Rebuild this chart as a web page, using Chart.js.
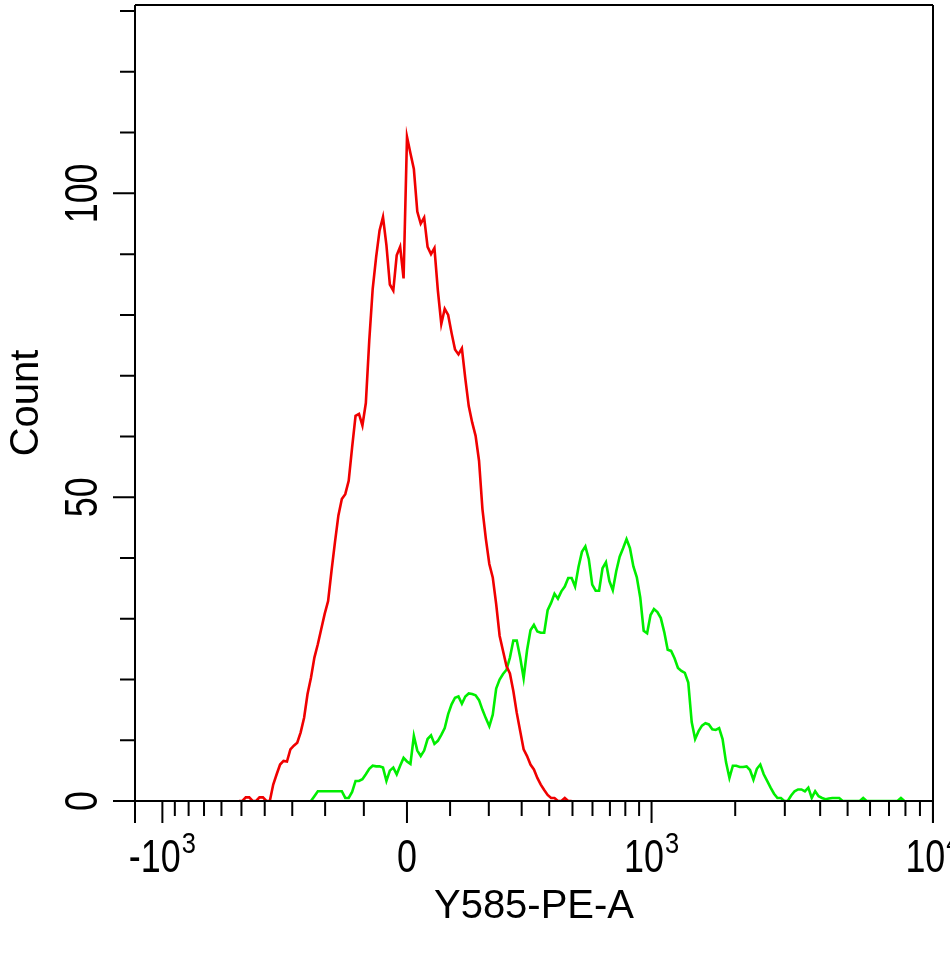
<!DOCTYPE html>
<html><head><meta charset="utf-8">
<script src="https://cdn.jsdelivr.net/npm/chart.js@4.4.1/dist/chart.umd.min.js"></script>
<style>html,body{margin:0;padding:0;background:#fff;} #wrap{width:950px;height:962px;position:relative;}</style>
</head><body><div id="wrap"><canvas id="c"></canvas></div>
<script>
// ---------------- data (histogram counts per display channel) ----------------
const redStart = 30;
const redCounts = [
  0, 0, 0.6, 0.6, 0, 0, 0.6, 0.6, 0, 0,
  2.7, 4.4, 6.0, 6.6, 6.5, 8.5, 9.1, 9.6, 11.3, 13.7,
  17.6, 20.3, 23.6, 25.8, 28.3, 30.8, 32.9, 37.9, 42.6, 47.0,
  49.7, 50.5, 52.7, 58.2, 63.4, 63.7, 61.8, 65.5, 75.8, 84.3,
  89.5, 93.9, 96.1, 91.5, 85.0, 84.0, 89.8, 91.2, 86.0, 109.3,
  106.6, 104.0, 97.0, 95.0, 96.0, 91.2, 90.0, 91.0, 84.0, 78.5,
  81.0, 80.0, 77.0, 74.3, 73.5, 74.5, 69.5, 65.0, 62.3, 60.1,
  56.0, 48.0, 43.1, 39.0, 36.8, 32.4, 27.2, 24.7, 22.2, 21.0,
  18.1, 14.5, 11.5, 8.5, 7.4, 6.0, 5.2, 3.8, 2.7, 1.8,
  1.0, 0.5, 0.5, 0, 0, 0.5, 0, 0
];
const greenStart = 51;
const greenCounts = [
  0, 0.8, 1.6, 1.6, 1.6, 1.6, 1.6, 1.6, 1.6, 1.6,
  0.5, 0.5, 1.5, 3.3, 3.3, 3.6, 4.4, 5.3, 5.8, 5.7,
  5.7, 5.5, 3.3, 5.0, 5.5, 4.4, 5.8, 7.1, 6.5, 6.1,
  10.7, 8.3, 7.4, 8.3, 10.2, 10.8, 9.4, 9.9, 10.9, 12.0,
  14.3, 15.9, 17.0, 17.2, 16.0, 17.2, 17.7, 17.6, 17.4, 16.6,
  15.0, 13.6, 12.3, 14.2, 18.5, 20.0, 20.9, 21.6, 23.6, 26.4,
  26.4, 23.6, 20.2, 24.8, 28.1, 29.0, 27.9, 27.7, 27.7, 31.4,
  32.6, 34.1, 33.3, 34.5, 35.3, 36.7, 36.7, 35.3, 38.5, 41.0,
  41.9, 39.8, 35.6, 34.6, 34.6, 38.3, 39.3, 36.2, 34.7, 37.8,
  40.2, 41.6, 43.1, 41.6, 38.6, 36.8, 33.5, 28.0, 27.6, 30.6,
  31.6, 31.1, 30.1, 27.8, 24.9, 24.7, 23.5, 21.9, 21.4, 21.1,
  19.5, 13.0, 10.2, 11.5, 12.4, 12.8, 12.6, 11.8, 11.7, 12.0,
  10.2, 6.4, 3.8, 5.8, 5.8, 5.6, 5.6, 5.7, 5.1, 3.5,
  5.3, 6.0, 4.4, 3.3, 2.2, 1.2, 0.5, 0.5, 0, 0,
  0.9, 1.6, 1.9, 1.9, 1.6, 2.2, 0.5, 1.6, 0.8, 0.5,
  0.3, 0.4, 0.5, 0.5, 0.5, 0, 0, 0, 0, 0,
  0, 0.5, 0, 0, 0, 0, 0, 0, 0, 0,
  0, 0, 0.5, 0
];
const yMajorTicks = [0, 50, 100];
const yMinorTicks = [10, 20, 30, 40, 60, 70, 80, 90, 110, 120, 130];
const xMajorValues = [-1000, 0, 1000, 10000];
const xMajorLabels = ['-10', '0', '10', '10'];
const xMajorExponents = ['3', '', '3', '4'];
const xMinorValues = [-900, -800, -700, -600, -500, -400, -300, -200, -100,
  100, 200, 300, 400, 500, 600, 700, 800, 900,
  2000, 3000, 4000, 5000, 6000, 7000, 8000, 9000];
const xAxisTitle = 'Y585-PE-A';
const yAxisTitle = 'Count';

// biexponential display: fluorescence value -> histogram channel
const CH_MIN = -0.3, CH_MAX = 232.35;
const BIEX_ZERO = 78.99, BIEX_GAIN = 35.92, BIEX_WIDTH = 280;
function channelOf(v) { return BIEX_ZERO + BIEX_GAIN * Math.asinh(v / BIEX_WIDTH); }

const FONT = '"Liberation Sans", Arial, sans-serif';

const axisPlugin = {
  id: 'flowAxes',
  afterDatasetsDraw(chart) {
    const {ctx, chartArea: a, scales: {x, y}} = chart;
    const MAJ = 22, MIN = 15;
    ctx.save();
    ctx.strokeStyle = '#000';
    ctx.lineWidth = 2;
    ctx.beginPath();
    ctx.moveTo(a.left - MAJ, a.bottom); ctx.lineTo(a.right, a.bottom);
    ctx.moveTo(a.left, a.top); ctx.lineTo(a.left, a.bottom + MAJ);
    ctx.moveTo(a.left, a.top); ctx.lineTo(a.right, a.top);
    ctx.moveTo(a.right, a.top); ctx.lineTo(a.right, a.bottom + MAJ);
    yMajorTicks.forEach(v => { const p = y.getPixelForValue(v); ctx.moveTo(a.left - MAJ, p); ctx.lineTo(a.left, p); });
    yMinorTicks.forEach(v => { const p = y.getPixelForValue(v); ctx.moveTo(a.left - MIN, p); ctx.lineTo(a.left, p); });
    xMajorValues.forEach(v => { const p = x.getPixelForValue(channelOf(v)); ctx.moveTo(p, a.bottom); ctx.lineTo(p, a.bottom + MAJ); });
    xMinorValues.forEach(v => { const p = x.getPixelForValue(channelOf(v)); ctx.moveTo(p, a.bottom); ctx.lineTo(p, a.bottom + MIN); });
    ctx.stroke();

    ctx.fillStyle = '#000';
    const F = 46, SX = 0.78, FS = 30, SXS = 0.85;
    // y tick labels (rotated)
    ctx.font = F + 'px ' + FONT;
    yMajorTicks.forEach(v => {
      const p = y.getPixelForValue(v);
      ctx.save();
      ctx.translate(a.left - 38, p);
      ctx.rotate(-Math.PI / 2);
      ctx.scale(SX, 1);
      ctx.textAlign = 'center';
      ctx.textBaseline = 'alphabetic';
      ctx.fillText(String(v), 0, 0);
      ctx.restore();
    });
    // x tick labels with superscript exponents
    const base = a.bottom + 71;
    xMajorValues.forEach((v, i) => {
      const p = x.getPixelForValue(channelOf(v));
      ctx.font = F + 'px ' + FONT;
      const mw = ctx.measureText(xMajorLabels[i]).width * SX;
      ctx.font = FS + 'px ' + FONT;
      const sup = xMajorExponents[i];
      const sw = sup ? ctx.measureText(sup).width * SXS + 1 : 0;
      const sx = p - (mw + sw) / 2;
      ctx.save();
      ctx.font = F + 'px ' + FONT;
      ctx.translate(sx, base); ctx.scale(SX, 1);
      ctx.textAlign = 'left'; ctx.textBaseline = 'alphabetic';
      ctx.fillText(xMajorLabels[i], 0, 0);
      ctx.restore();
      if (sup) {
        ctx.save();
        ctx.font = FS + 'px ' + FONT;
        ctx.translate(sx + mw + 1, base - 19); ctx.scale(SXS, 1);
        ctx.textAlign = 'left'; ctx.textBaseline = 'alphabetic';
        ctx.fillText(sup, 0, 0);
        ctx.restore();
      }
    });
    ctx.restore();
  }
};

const toPoints = (start, arr) => arr.map((v, i) => ({x: start + i, y: v}));

new Chart(document.getElementById('c'), {
  type: 'line',
  data: {
    datasets: [
      {label: 'Control', data: toPoints(redStart, redCounts), borderColor: 'rgb(240,0,0)', borderWidth: 2.6, pointRadius: 0, tension: 0, fill: false},
      {label: 'Stained', data: toPoints(greenStart, greenCounts), borderColor: 'rgb(0,238,0)', borderWidth: 2.6, pointRadius: 0, tension: 0, fill: false}
    ]
  },
  options: {
    responsive: true,
    maintainAspectRatio: false,
    animation: false,
    layout: {padding: {top: 5, right: 17, left: 0, bottom: 0}},
    plugins: {legend: {display: false}, tooltip: {enabled: false}},
    scales: {
      x: {
        type: 'linear', min: CH_MIN, max: CH_MAX,
        grid: {display: false}, border: {display: false}, ticks: {display: false},
        title: {display: true, text: xAxisTitle, color: '#000', font: {size: 40, family: FONT}, padding: {top: 0, bottom: 31}},
        afterFit(s) { s.height = 161; }
      },
      y: {
        type: 'linear', min: 0, max: 131,
        grid: {display: false}, border: {display: false}, ticks: {display: false},
        title: {display: true, text: yAxisTitle, color: '#000', font: {size: 40, family: FONT}, padding: {top: 3, bottom: 0}},
        afterFit(s) { s.width = 135; }
      }
    }
  },
  plugins: [axisPlugin]
});
</script>
</body></html>
